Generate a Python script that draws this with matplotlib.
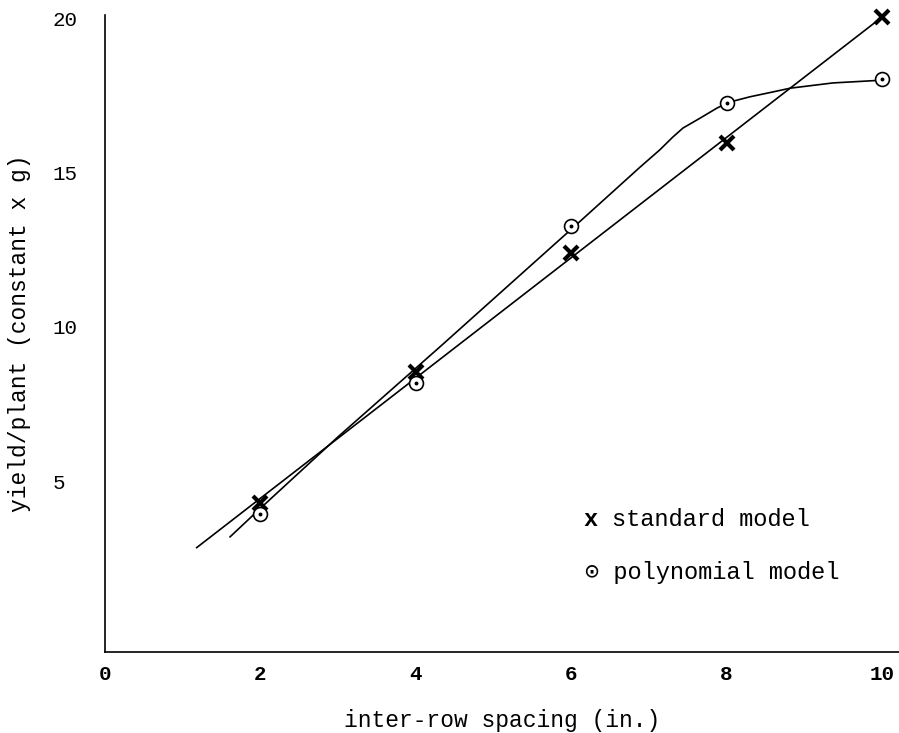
import matplotlib
matplotlib.use("Agg")
import matplotlib.pyplot as plt

# data
xs = [2, 4, 6, 8, 10]
std_pts = [4.3, 8.54, 12.39, 15.95, 20.03]
poly_pts = [3.95, 8.19, 13.27, 17.25, 18.03]

# standard model: straight fitted line (end points)
std_line_x = [1.18, 10.0]
std_line_y = [2.85, 20.03]

# polynomial model: fitted curve, points read along it
poly_curve_x = [1.61, 2.02, 3.0, 4.31, 6.05, 6.89, 7.14, 7.31, 7.44, 7.66, 7.88, 8.04,
                8.30, 8.60, 8.82, 9.37, 10.01]
poly_curve_y = [3.20, 4.17, 6.44, 9.35, 13.27, 15.18, 15.73, 16.15, 16.44, 16.76, 17.09, 17.28,
                17.45, 17.61, 17.73, 17.90, 17.99]

x_ticks = [0, 2, 4, 6, 8, 10]
y_ticks = [5, 10, 15, 20]

mono = ["Liberation Mono", "DejaVu Sans Mono"]
plt.rcParams["font.family"] = mono

fig = plt.figure(figsize=(8.99, 7.33), dpi=100)
ax = fig.add_axes([105 / 899, 81 / 733, 1 - 105 / 899, (652 - 15) / 733])

#Lines first, markers on top
ax.plot(std_line_x, std_line_y, color="black", lw=1.2)
ax.plot(poly_curve_x, poly_curve_y, color="black", lw=1.2)
ax.plot(xs, std_pts, ls="none", marker="x", ms=10, mew=3, color="black", clip_on=False)
ax.plot(xs, poly_pts, ls="none", marker="o", ms=10, mew=1.2, mfc="white", mec="black", clip_on=False)
ax.plot(xs, poly_pts, ls="none", marker="o", ms=1.8, color="black", clip_on=False)

ax.set_xlim(0, 10.22)
ax.set_ylim(-0.53, 20.1)

ax.spines["top"].set_visible(False)
ax.spines["right"].set_visible(False)
ax.spines["left"].set_linewidth(1.2)
ax.spines["bottom"].set_linewidth(1.2)

ax.set_xticks(x_ticks)
ax.set_xticklabels([str(t) for t in x_ticks], fontsize=15, fontweight="bold")
ax.set_yticks(y_ticks)
ax.set_yticklabels([str(t) for t in y_ticks], fontsize=15, ha="left")
ax.tick_params(axis="x", length=0, pad=9)
ax.tick_params(axis="y", length=0, pad=37.5)

ax.set_xlabel("inter-row spacing (in.)", fontsize=16.5, labelpad=18)
ax.set_ylabel("yield/plant (constant x g)", fontsize=16.5, labelpad=16)

#Legend written as text like the original
lx = (583 - 105) / (899 - 105)
ax.text(lx, (652 - 520) / 637, "x", fontsize=17, fontweight="bold",
        va="center", ha="left", transform=ax.transAxes)
ax.text(lx + 0.0365, (652 - 520) / 637, "standard model", fontsize=17,
        va="center", ha="left", transform=ax.transAxes)
ax.text(lx + 0.002, (652 - 573) / 637, "\u2299 polynomial model", fontsize=17,
        va="center", ha="left", transform=ax.transAxes, family=mono)

plt.savefig("out.png", dpi=100)
